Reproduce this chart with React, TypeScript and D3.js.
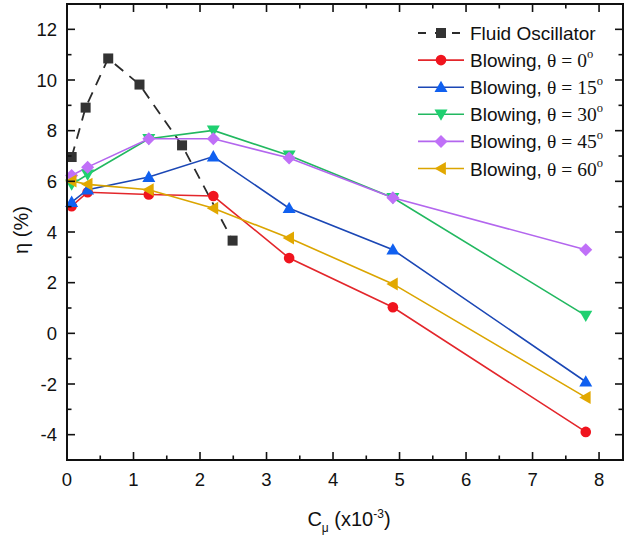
import React, { useRef, useEffect } from "react";
import * as d3 from "d3";

// fluid oscillator (dashed black, squares)
const oscX = [0.07, 0.28, 0.62, 1.09, 1.73, 2.49];
const oscY = [6.96, 8.91, 10.85, 9.82, 7.42, 3.66];

// blowing cases share the same C_mu values
const blowX = [0.07, 0.31, 1.23, 2.2, 3.34, 4.9, 7.8];
const blow0 = [5.02, 5.57, 5.48, 5.42, 2.97, 1.03, -3.89];
const blow15 = [5.18, 5.67, 6.17, 6.98, 4.94, 3.3, -1.91];
const blow30 = [5.88, 6.27, 7.68, 8.01, 7.02, 5.35, 0.7];
const blow45 = [6.23, 6.56, 7.68, 7.68, 6.92, 5.35, 3.3];
const blow60 = [6.01, 5.88, 5.67, 4.94, 3.76, 1.95, -2.53];

const angles = ["0", "15", "30", "45", "60"];
const xTicks = [0, 1, 2, 3, 4, 5, 6, 7, 8];
const yTicks = [-4, -2, 0, 2, 4, 6, 8, 10, 12];

const W = 631;
const H = 535;
const sans = "'Liberation Sans', Arial, sans-serif";
const serif = "'Liberation Serif', 'Times New Roman', serif";

const App = () => {
  const ref = useRef<SVGSVGElement>(null);

  useEffect(() => {
    const svg = d3.select(ref.current);
    svg.selectAll("*").remove();

    const left = 67, right = 623, top = 4, bottom = 460;
    const x = d3.scaleLinear().domain([0, 8.36]).range([left, right]);
    const y = d3.scaleLinear().domain([-5, 13]).range([bottom, top]);

    const series = [
      { ys: blow0, line: "#e3262b", fill: "#f0141e", marker: "circle" },
      { ys: blow15, line: "#1b47b5", fill: "#1060f0", marker: "up" },
      { ys: blow30, line: "#22b860", fill: "#1fd070", marker: "down" },
      { ys: blow45, line: "#b366ee", fill: "#c070f8", marker: "diamond" },
      { ys: blow60, line: "#dba500", fill: "#e2a800", marker: "left" },
    ];

    const drawMarker = (g, type: string, cx: number, cy: number, fill: string) => {
      if (type === "circle") {
        g.append("circle").attr("cx", cx).attr("cy", cy).attr("r", 5.3).attr("fill", fill);
        return;
      }
      if (type === "square") {
        g.append("rect").attr("x", cx - 5).attr("y", cy - 5).attr("width", 10).attr("height", 10).attr("fill", fill);
        return;
      }
      let pts: number[][] = [];
      const s = 6.5;
      if (type === "up") pts = [[0, -s], [s, s * 0.75], [-s, s * 0.75]];
      if (type === "down") pts = [[0, s], [s, -s * 0.75], [-s, -s * 0.75]];
      if (type === "left") pts = [[-s, 0], [s * 0.75, -s], [s * 0.75, s]];
      if (type === "diamond") pts = [[0, -6.5], [6.5, 0], [0, 6.5], [-6.5, 0]];
      g.append("polygon")
        .attr("points", pts.map((p) => `${cx + p[0]},${cy + p[1]}`).join(" "))
        .attr("fill", fill);
    };

    const lineGen = d3
      .line<number[]>()
      .x((d) => x(d[0]))
      .y((d) => y(d[1]));

    const plot = svg.append("g");

    // fluid oscillator
    const oscData = oscX.map((v, i) => [v, oscY[i]]);
    plot.append("path").attr("d", lineGen(oscData)).attr("fill", "none")
      .attr("stroke", "#2b2b2b").attr("stroke-width", 1.8).attr("stroke-dasharray", "11,8");
    oscData.forEach((d) => drawMarker(plot, "square", x(d[0]), y(d[1]), "#333"));

    series.forEach((s) => {
      const data = blowX.map((v, i) => [v, s.ys[i]]);
      plot.append("path").attr("d", lineGen(data)).attr("fill", "none")
        .attr("stroke", s.line).attr("stroke-width", 1.6);
    });
    series.forEach((s) => {
      blowX.forEach((v, i) => drawMarker(plot, s.marker, x(v), y(s.ys[i]), s.fill));
    });

    // frame
    svg.append("rect").attr("x", left).attr("y", top).attr("width", right - left)
      .attr("height", bottom - top).attr("fill", "none").attr("stroke", "#111").attr("stroke-width", 2);

    const axes = svg.append("g").attr("stroke", "#111").attr("stroke-width", 1.6);
    d3.range(0, 8.01, 0.5).forEach((v) => {
      const len = Number.isInteger(v) ? 8 : 4.5;
      axes.append("line").attr("x1", x(v)).attr("x2", x(v)).attr("y1", bottom).attr("y2", bottom - len);
      axes.append("line").attr("x1", x(v)).attr("x2", x(v)).attr("y1", top).attr("y2", top + len);
    });
    d3.range(-5, 13.01, 1).forEach((v) => {
      const len = v % 2 === 0 ? 8 : 4.5;
      axes.append("line").attr("x1", left).attr("x2", left + len).attr("y1", y(v)).attr("y2", y(v));
      axes.append("line").attr("x1", right).attr("x2", right - len).attr("y1", y(v)).attr("y2", y(v));
    });

    svg.append("g").selectAll("text").data(xTicks).enter().append("text")
      .attr("x", (d) => x(d)).attr("y", 486).attr("text-anchor", "middle")
      .attr("font-family", sans).attr("font-size", 18.5).attr("fill", "#111").text((d) => d);
    svg.append("g").selectAll("text").data(yTicks).enter().append("text")
      .attr("x", 57).attr("y", (d) => y(d) + 6.5).attr("text-anchor", "end")
      .attr("font-family", sans).attr("font-size", 18.5).attr("fill", "#111").text((d) => d);

    // axis titles
    const xt = svg.append("text").attr("x", 349).attr("y", 526).attr("text-anchor", "middle")
      .attr("font-family", sans).attr("font-size", 20).attr("fill", "#111");
    xt.append("tspan").text("C");
    xt.append("tspan").attr("font-size", 12).attr("dy", 6).text("μ");
    xt.append("tspan").attr("dy", -6).text(" (x10");
    xt.append("tspan").attr("font-size", 12).attr("dy", -8).text("-3");
    xt.append("tspan").attr("dy", 8).text(")");

    svg.append("text").attr("transform", "translate(28,230) rotate(-90)").attr("text-anchor", "middle")
      .attr("font-family", sans).attr("font-size", 20).attr("fill", "#111").text("η (%)");

    // legend
    const lg = svg.append("g");
    const rowY = (i: number) => 33 + i * 27.1;
    lg.append("line").attr("x1", 418).attr("x2", 464).attr("y1", rowY(0)).attr("y2", rowY(0))
      .attr("stroke", "#2b2b2b").attr("stroke-width", 1.8).attr("stroke-dasharray", "8,9");
    drawMarker(lg, "square", 441, rowY(0), "#333");
    lg.append("text").attr("x", 470).attr("y", rowY(0) + 7).attr("font-family", sans)
      .attr("font-size", 19).attr("fill", "#111").text("Fluid Oscillator");
    series.forEach((s, i) => {
      const yy = rowY(i + 1);
      lg.append("line").attr("x1", 418).attr("x2", 464).attr("y1", yy).attr("y2", yy)
        .attr("stroke", s.line).attr("stroke-width", 1.6);
      drawMarker(lg, s.marker, 441, yy, s.fill);
      const t = lg.append("text").attr("x", 470).attr("y", yy + 7).attr("font-size", 19)
        .attr("fill", "#111").attr("font-family", sans);
      t.append("tspan").text("Blowing, ");
      t.append("tspan").attr("font-family", serif).attr("font-size", 19.5).text(`θ = ${angles[i]}`);
      t.append("tspan").attr("font-family", serif).attr("font-size", 12.5).attr("dy", -9).text("o");
    });
  }, []);

  return (
    <svg ref={ref} width={W} height={H} style={{ position: "absolute", left: 0, top: 0, background: "#fff" }} />
  );
};

export default App;
